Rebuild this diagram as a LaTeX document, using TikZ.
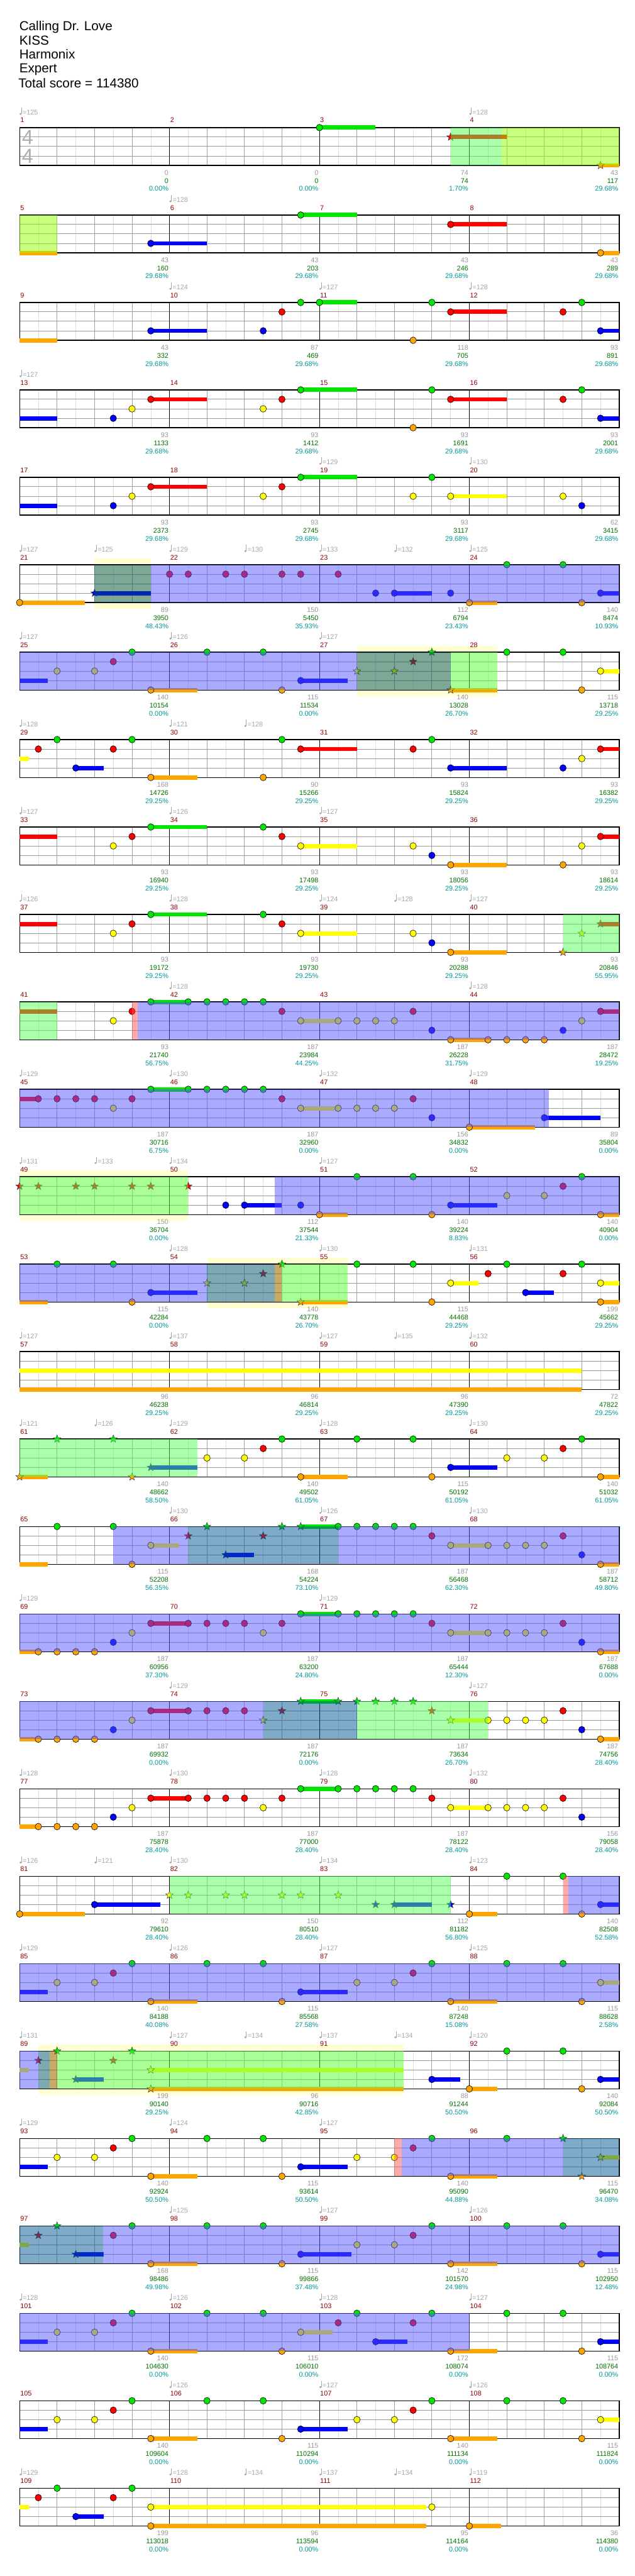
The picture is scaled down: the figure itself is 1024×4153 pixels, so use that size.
\documentclass[tikz,border=0pt]{standalone}
\usepackage{fontspec}
\setmainfont{Liberation Sans}
\usepackage{tikz}

\definecolor{lane0}{RGB}{0,230,0}
\definecolor{lane1}{RGB}{255,0,0}
\definecolor{lane2}{RGB}{255,255,0}
\definecolor{lane3}{RGB}{0,0,255}
\definecolor{lane4}{RGB}{255,165,0}
\definecolor{odfill}{RGB}{85,85,255}
\definecolor{spfill}{RGB}{85,255,85}
\definecolor{limefill}{RGB}{145,255,0}
\definecolor{mixafill}{RGB}{0,85,145}
\definecolor{mixbfill}{RGB}{0,81,90}
\definecolor{pinkfill}{RGB}{255,85,85}
\definecolor{tanfill}{RGB}{145,85,0}
\definecolor{paleyel}{RGB}{255,255,210}
\definecolor{eighthc}{RGB}{222,222,222}
\definecolor{quarterc}{RGB}{160,160,160}
\definecolor{lanec}{RGB}{155,155,155}
\definecolor{mred}{RGB}{140,0,0}
\definecolor{sgray}{RGB}{150,150,150}
\definecolor{dgreen}{RGB}{0,110,0}
\definecolor{pteal}{RGB}{0,150,150}
\definecolor{tgray}{RGB}{165,165,165}
\definecolor{tsgray}{RGB}{175,175,175}

% staff of one row, 32 eighths wide, lanes 0..4
\newcommand{\staffgrid}{%
  \foreach \i in {1,3,...,31} \draw[eighthline] (\i,0) -- (\i,4);
  \foreach \i in {2,4,6,10,12,14,18,20,22,26,28,30} \draw[quarterline] (\i,0) -- (\i,4);
  \foreach \i in {1,2,3} \draw[laneline] (0,\i) -- (32,\i);
  \foreach \i in {8,16,24} \draw[barline] (\i,0) -- (\i,4);
  \draw[staffedge] (0,0) rectangle (32,4);
}
\newcommand{\nhead}[2]{\filldraw[notehead, fill=lane#2] (#1,#2) ellipse [x radius=5.2pt, y radius=5.4pt];}
\newcommand{\nheads}[2]{\foreach \pp in {#1}{\nhead{\pp}{#2}}}
\newcommand{\sust}[3]{\draw[lane#3, line width=7pt] (#1,#3) -- (#2,#3);}
\newcommand{\snote}[3]{\sust{#1}{#2}{#3}\nhead{#1}{#3}}
\newcommand{\sstar}[2]{\filldraw[starnote, fill=lane#2] (#1,#2) +(90:6.5pt) -- +(126:2.7pt) -- +(162:6.5pt) -- +(198:2.7pt) -- +(234:6.5pt) -- +(270:2.7pt) -- +(306:6.5pt) -- +(342:2.7pt) -- +(18:6.5pt) -- +(54:2.7pt) -- cycle;}
\newcommand{\sstars}[2]{\foreach \pp in {#1}{\sstar{\pp}{#2}}}
\newcommand{\ovl}[3]{\fill[#3, opacity=.5] (#1,0) rectangle (#2,4);}
\newcommand{\pyel}[2]{\fill[paleyel] (#1,-.66) rectangle (#2,4.66);}
\newcommand{\tempos}[2]{%
  \foreach \tq/\tv in {#2}{
    \fill[tgray] (\tq,0) ++(1.5pt,22pt) circle (1.7pt);
    \draw[tgray, line width=.6pt] (\tq,0) ++(3pt,22pt) -- ++(0pt,10pt);
    \path (\tq,0) ++(4.8pt,20.7pt) node[tempo] (tp#1-\tq) {=\tv};
  }
}
\newcommand{\scores}[2]{%
  \foreach \va/\vb/\vc [count=\kk from 0] in {#2}{
    \pgfmathtruncatemacro{\mno}{4*#1+\kk+1}
    \path (8*\kk,0) ++(1pt,8pt) node[mnum] (mn\mno) {\mno};
    \path (8*\kk+8,4) ++(-1.5pt,-15.5pt) node[snum] (sa\mno) {\va};
    \path (8*\kk+8,4) ++(-1.5pt,-28.5pt) node[tnum] (sb\mno) {\vb};
    \path (8*\kk+8,4) ++(-1.5pt,-41.5pt) node[pnum] (sc\mno) {\vc\%};
  }
}

\begin{document}
\begin{tikzpicture}[x=1pt, y=-1pt,
  rowat/.style={xshift=31.6pt, yshift={-205.7pt-#1*140.95pt}, x=30.22pt, y=-15.25pt},
  eighthline/.style={draw=eighthc, line width=.6pt},
  quarterline/.style={draw=quarterc, line width=.8pt},
  laneline/.style={draw=lanec, line width=1pt},
  barline/.style={draw=black, line width=.8pt},
  staffedge/.style={draw=black, line width=1.3pt},
  notehead/.style={draw=black, line width=.6pt},
  starnote/.style={draw=black!80, line width=.5pt},
  headtext/.style={font=\fontsize{21}{24}\selectfont, anchor=base west, inner sep=0pt},
  mnum/.style={text=mred, font=\fontsize{11}{13}\selectfont, anchor=base west, inner sep=0pt},
  snum/.style={text=sgray, font=\fontsize{11}{13}\selectfont, anchor=base east, inner sep=0pt},
  tnum/.style={snum, text=dgreen},
  pnum/.style={snum, text=pteal},
  tempo/.style={text=tgray, font=\fontsize{11}{13}\selectfont, anchor=base west, inner sep=0pt},
  tsig/.style={text=tsgray, font=\fontsize{33}{33}\selectfont, inner sep=0pt}]
\useasboundingbox (0,0) rectangle (1024,4153);

% Song header
\node[headtext] (title) at (31,49.3) {Calling Dr. Love};
\node[headtext] (artist) at (31,72) {KISS};
\node[headtext] (author) at (31,95) {Harmonix};
\node[headtext] (level) at (31,117.5) {Expert};
\node[headtext] (total) at (29.5,141) {Total score = 114380};

% Row 1: measures 1-4
\begin{scope}[rowat=0]
  \staffgrid
  \path (0,1) ++(13pt,0pt) node[tsig] (tsa) {4};
  \path (0,3) ++(13pt,0pt) node[tsig] (tsb) {4};
  \snote{16}{19}{0}
  \sust{23}{26}{1}\sstar{23}{1}
  \sust{31}{32}{4}\sstar{31}{4}
  \ovl{23}{25.74}{spfill}
  \ovl{25.74}{32}{limefill}
  \tempos{0}{0/125, 24/128}
  \scores{0}{0/0/0.00, 0/0/0.00, 74/74/1.70, 43/117/29.68}
\end{scope}

% Row 2: measures 5-8
\begin{scope}[rowat=1]
  \staffgrid
  \sust{0}{2}{4}
  \snote{7}{10}{3}
  \snote{15}{18}{0}
  \snote{23}{26}{1}
  \snote{31}{32}{4}
  \ovl{0}{2}{limefill}
  \tempos{1}{8/128}
  \scores{1}{43/160/29.68, 43/203/29.68, 43/246/29.68, 43/289/29.68}
\end{scope}

% Row 3: measures 9-12
\begin{scope}[rowat=2]
  \staffgrid
  \sust{0}{2}{4}
  \snote{7}{10}{3} \nhead{13}{3} \nhead{14}{1} \nhead{15}{0}
  \snote{16}{18}{0} \nhead{21}{4} \nhead{22}{0}
  \snote{23}{26}{1} \nhead{29}{1} \nhead{30}{0}
  \snote{31}{32}{3}
  \tempos{2}{8/124, 16/127, 24/128}
  \scores{2}{43/332/29.68, 87/469/29.68, 118/705/29.68, 93/891/29.68}
\end{scope}

% Row 4: measures 13-16
\begin{scope}[rowat=3]
  \staffgrid
  \sust{0}{2}{3} \nhead{5}{3} \nhead{6}{2}
  \snote{7}{10}{1} \nhead{13}{2} \nhead{14}{1}
  \snote{15}{18}{0} \nhead{21}{4} \nhead{22}{0}
  \snote{23}{26}{1} \nhead{29}{1} \nhead{30}{0}
  \snote{31}{32}{3}
  \tempos{3}{0/127}
  \scores{3}{93/1133/29.68, 93/1412/29.68, 93/1691/29.68, 93/2001/29.68}
\end{scope}

% Row 5: measures 17-20
\begin{scope}[rowat=4]
  \staffgrid
  \sust{0}{2}{3} \nhead{5}{3} \nhead{6}{2}
  \snote{7}{10}{1} \nhead{13}{2} \nhead{14}{1}
  \snote{15}{18}{0} \nhead{21}{2} \nhead{22}{0}
  \snote{23}{26}{2} \nhead{29}{2} \nhead{30}{3}
  \tempos{4}{16/129, 24/130}
  \scores{4}{93/2373/29.68, 93/2745/29.68, 93/3117/29.68, 62/3415/29.68}
\end{scope}

% Row 6: measures 21-24
\begin{scope}[rowat=5]
  \pyel{4}{7}
  \staffgrid
  \snote{0}{3.5}{4}
  \sust{4}{7}{3}\sstar{4}{3}
  \nheads{8,9,11,12,14,15,17}{1}
  \nhead{19}{3} \snote{20}{22}{3} \nhead{23}{3}
  \snote{24}{25.5}{4} \nhead{26}{0} \nhead{29}{0} \nhead{30}{4}
  \snote{31}{32}{3}
  \ovl{4}{7}{mixbfill} \ovl{7}{32}{odfill}
  \tempos{5}{0/127, 4/125, 8/129, 12/130, 16/133, 20/132, 24/125}
  \scores{5}{89/3950/48.43, 150/5450/35.93, 112/6794/23.43, 140/8474/10.93}
\end{scope}

% Row 7: measures 25-28
\begin{scope}[rowat=6]
  \pyel{18}{25.5}
  \staffgrid
  \sust{0}{1.5}{3} \nhead{2}{2} \nhead{4}{2} \nhead{5}{1} \nhead{6}{0}
  \snote{7}{9.5}{4} \nhead{10}{0} \nhead{13}{0} \nhead{14}{4}
  \snote{15}{17.5}{3}
  \sstar{18}{2} \sstar{20}{2} \sstar{21}{1} \sstar{22}{0}
  \sust{23}{25.5}{4}\sstar{23}{4}
  \nhead{26}{0} \nhead{29}{0} \nhead{30}{4}
  \snote{31}{32}{2}
  \ovl{0}{18}{odfill} \ovl{18}{23}{mixbfill} \ovl{23}{25.5}{spfill}
  \tempos{6}{0/127, 8/126, 16/127}
  \scores{6}{140/10154/0.00, 115/11534/0.00, 140/13028/26.70, 115/13718/29.25}
\end{scope}

% Row 8: measures 29-32
\begin{scope}[rowat=7]
  \staffgrid
  \sust{0}{0.5}{2} \nhead{1}{1} \nhead{2}{0}
  \snote{3}{4.5}{3} \nhead{5}{1} \nhead{6}{0}
  \snote{7}{9.5}{4} \nhead{13}{4} \nhead{14}{0}
  \snote{15}{18}{1} \nhead{21}{1} \nhead{22}{0}
  \snote{23}{26}{3} \nhead{29}{3} \nhead{30}{2}
  \snote{31}{32}{1}
  \tempos{7}{0/128, 8/121, 12/128}
  \scores{7}{168/14726/29.25, 90/15266/29.25, 93/15824/29.25, 93/16382/29.25}
\end{scope}

% Row 9: measures 33-36
\begin{scope}[rowat=8]
  \staffgrid
  \sust{0}{2}{1} \nhead{5}{2} \nhead{6}{1}
  \snote{7}{10}{0} \nhead{13}{0} \nhead{14}{1}
  \snote{15}{18}{2} \nhead{21}{2} \nhead{22}{3}
  \snote{23}{26}{4} \nhead{29}{4} \nhead{30}{2}
  \snote{31}{32}{1}
  \tempos{8}{0/127, 8/126, 16/127}
  \scores{8}{93/16940/29.25, 93/17498/29.25, 93/18056/29.25, 93/18614/29.25}
\end{scope}

% Row 10: measures 37-40
\begin{scope}[rowat=9]
  \staffgrid
  \sust{0}{2}{1} \nhead{5}{2} \nhead{6}{1}
  \snote{7}{10}{0} \nhead{13}{0} \nhead{14}{1}
  \snote{15}{18}{2} \nhead{21}{2} \nhead{22}{3}
  \snote{23}{26}{4}
  \sstar{29}{4} \sstar{30}{2}
  \sust{31}{32}{1}\sstar{31}{1}
  \ovl{29}{32}{spfill}
  \tempos{9}{0/126, 8/128, 16/124, 20/128, 24/127}
  \scores{9}{93/19172/29.25, 93/19730/29.25, 93/20288/29.25, 93/20846/55.95}
\end{scope}

% Row 11: measures 41-44
\begin{scope}[rowat=10]
  \staffgrid
  \sust{0}{2}{1} \nhead{5}{2} \nhead{6}{1}
  \sust{7}{9}{0} \nheads{7,9,10,11,12,13}{0} \nhead{14}{1}
  \sust{15}{17}{2} \nheads{15,17,18,19,20}{2} \nhead{21}{1} \nhead{22}{3}
  \sust{23}{25}{4} \nheads{23,25,26,27,28}{4} \nhead{29}{3} \nhead{30}{2}
  \snote{31}{32}{1}
  \ovl{0}{2}{spfill} \ovl{6}{6.3}{pinkfill} \ovl{6.3}{32}{odfill}
  \tempos{10}{8/128, 24/128}
  \scores{10}{93/21740/56.75, 187/23984/44.25, 187/26228/31.75, 187/28472/19.25}
\end{scope}

% Row 12: measures 45-48
\begin{scope}[rowat=11]
  \staffgrid
  \sust{0}{1}{1} \nheads{1,2,3,4}{1} \nhead{5}{2} \nhead{6}{1}
  \sust{7}{9}{0} \nheads{7,9,10,11,12,13}{0} \nhead{14}{1}
  \sust{15}{17}{2} \nheads{15,17,18,19,20}{2} \nhead{21}{1} \nhead{22}{3}
  \snote{24}{27.5}{4} \snote{28}{31}{3}
  \ovl{0}{28.25}{odfill}
  \tempos{11}{0/129, 8/130, 16/132, 24/129}
  \scores{11}{187/30716/6.75, 187/32960/0.00, 156/34832/0.00, 89/35804/0.00}
\end{scope}

% Row 13: measures 49-52
\begin{scope}[rowat=12]
  \pyel{0}{9}
  \staffgrid
  \sstars{0,1,3,4,6,7,9}{1}
  \nhead{11}{3} \snote{12}{14}{3} \nhead{15}{3}
  \snote{16}{17.5}{4} \nhead{18}{0} \nhead{21}{0} \nhead{22}{4}
  \snote{23}{25.5}{3} \nhead{26}{2} \nhead{28}{2} \nhead{29}{1} \nhead{30}{0}
  \snote{31}{32}{4}
  \ovl{0}{9}{spfill} \ovl{13.6}{32}{odfill}
  \tempos{12}{0/131, 4/133, 8/134, 16/127}
  \scores{12}{150/36704/0.00, 112/37544/21.33, 140/39224/8.83, 140/40904/0.00}
\end{scope}

% Row 14: measures 53-56
\begin{scope}[rowat=13]
  \pyel{10}{17.5}
  \staffgrid
  \sust{0}{1.5}{4} \nhead{2}{0} \nhead{5}{0} \nhead{6}{4}
  \snote{7}{9.5}{3}
  \sstar{10}{2} \sstar{12}{2} \sstar{13}{1} \sstar{14}{0}
  \sust{15}{17.5}{4}\sstar{15}{4}
  \nhead{18}{0} \nhead{21}{0} \nhead{22}{4}
  \snote{23}{24.5}{2} \nhead{25}{1} \nhead{26}{0}
  \snote{27}{28.5}{3} \nhead{29}{1} \nhead{30}{0}
  \snote{31}{32}{2} \snote{31}{32}{4}
  \ovl{0}{10}{odfill} \ovl{10}{13.6}{mixafill} \ovl{13.6}{14}{tanfill} \ovl{14}{17.5}{spfill}
  \tempos{13}{8/128, 16/130, 24/131}
  \scores{13}{115/42284/0.00, 140/43778/26.70, 115/44468/29.25, 199/45662/29.25}
\end{scope}

% Row 15: measures 57-60
\begin{scope}[rowat=14]
  \staffgrid
  \sust{0}{30}{2} \sust{0}{30}{4}
  \tempos{14}{0/127, 8/137, 16/127, 20/135, 24/132}
  \scores{14}{96/46238/29.25, 96/46814/29.25, 96/47390/29.25, 72/47822/29.25}
\end{scope}

% Row 16: measures 61-64
\begin{scope}[rowat=15]
  \staffgrid
  \sust{0}{1.5}{4}\sstar{0}{4}
  \sstar{2}{0} \sstar{5}{0} \sstar{6}{4}
  \sust{7}{9.5}{3}\sstar{7}{3}
  \nhead{10}{2} \nhead{12}{2} \nhead{13}{1} \nhead{14}{0}
  \snote{15}{17.5}{4} \nhead{18}{0} \nhead{21}{0} \nhead{22}{4}
  \snote{23}{25.5}{3} \nhead{26}{2} \nhead{28}{2} \nhead{29}{1} \nhead{30}{0}
  \snote{31}{32}{4}
  \ovl{0}{9.5}{spfill}
  \tempos{15}{0/121, 4/126, 8/129, 16/128, 24/130}
  \scores{15}{140/48662/58.50, 140/49502/61.05, 115/50192/61.05, 140/51032/61.05}
\end{scope}

% Row 17: measures 65-68
\begin{scope}[rowat=16]
  \staffgrid
  \sust{0}{1.5}{4} \nhead{2}{0} \nhead{5}{0} \nhead{6}{4}
  \snote{7}{8.5}{2}
  \sstar{9}{1} \sstar{10}{0}
  \sust{11}{12.5}{3}\sstar{11}{3}
  \sstar{13}{1} \sstar{14}{0}
  \sust{15}{17}{0}\sstar{15}{0}
  \nheads{17,18,19,20,21}{0} \nhead{22}{1}
  \sust{23}{25}{2} \nheads{23,25,26,27,28}{2} \nhead{29}{1} \nhead{30}{3}
  \snote{31}{32}{4}
  \ovl{5}{9}{odfill} \ovl{9}{17}{mixafill} \ovl{17}{32}{odfill}
  \tempos{16}{8/130, 16/126, 24/130}
  \scores{16}{115/52208/56.35, 168/54224/73.10, 187/56468/62.30, 187/58712/49.80}
\end{scope}

% Row 18: measures 69-72
\begin{scope}[rowat=17]
  \staffgrid
  \sust{0}{1}{4} \nheads{1,2,3,4}{4} \nhead{5}{3} \nhead{6}{2}
  \sust{7}{9}{1} \nheads{7,9,10,11,12,14}{1} \nhead{13}{2}
  \sust{15}{17}{0} \nheads{15,17,18,19,20,21}{0} \nhead{22}{1}
  \sust{23}{25}{2} \nheads{23,25,26,27,28}{2} \nhead{29}{1} \nhead{30}{3}
  \snote{31}{32}{4}
  \ovl{0}{32}{odfill}
  \tempos{17}{0/129, 16/129}
  \scores{17}{187/60956/37.30, 187/63200/24.80, 187/65444/12.30, 187/67688/0.00}
\end{scope}

% Row 19: measures 73-76
\begin{scope}[rowat=18]
  \staffgrid
  \sust{0}{1}{4} \nheads{1,2,3,4}{4} \nhead{5}{3} \nhead{6}{2}
  \sust{7}{9}{1} \nheads{7,9,10,11,12}{1}
  \sstar{13}{2} \sstar{14}{1}
  \sust{15}{17}{0} \sstars{15,17,18,19,20,21}{0} \sstar{22}{1}
  \sust{23}{25}{2}\sstar{23}{2} \nheads{25,26,27,28}{2} \nhead{29}{1} \nhead{30}{3}
  \snote{31}{32}{4}
  \ovl{0}{13}{odfill} \ovl{13}{18}{mixafill} \ovl{18}{25}{spfill}
  \tempos{18}{8/129, 24/127}
  \scores{18}{187/69932/0.00, 187/72176/0.00, 187/73634/26.70, 187/74756/28.40}
\end{scope}

% Row 20: measures 77-80
\begin{scope}[rowat=19]
  \staffgrid
  \sust{0}{1}{4} \nheads{1,2,3,4}{4} \nhead{5}{3} \nhead{6}{2}
  \sust{7}{9}{1} \nheads{7,9,10,11,12,14}{1} \nhead{13}{2}
  \sust{15}{17}{0} \nheads{15,17,18,19,20,21}{0} \nhead{22}{1}
  \sust{23}{25}{2} \nheads{23,25,26,27,28}{2} \nhead{29}{1} \nhead{30}{3}
  \tempos{19}{0/128, 8/130, 16/128, 24/132}
  \scores{19}{187/75878/28.40, 187/77000/28.40, 187/78122/28.40, 156/79058/28.40}
\end{scope}

% Row 21: measures 81-84
\begin{scope}[rowat=20]
  \staffgrid
  \snote{0}{3.5}{4} \snote{4}{7.5}{3}
  \sstars{8,9,11,12,14,15,17}{2}
  \sstar{19}{3} \sust{20}{22}{3}\sstar{20}{3} \sstar{23}{3}
  \snote{24}{25.5}{4} \nhead{26}{0} \nhead{29}{0} \nhead{30}{4}
  \snote{31}{32}{3}
  \ovl{8}{23}{spfill} \ovl{29}{29.3}{pinkfill} \ovl{29.3}{32}{odfill}
  \tempos{20}{0/126, 4/121, 8/130, 16/134, 24/123}
  \scores{20}{92/79610/28.40, 150/80510/28.40, 112/81182/56.80, 140/82508/52.58}
\end{scope}

% Row 22: measures 85-88
\begin{scope}[rowat=21]
  \staffgrid
  \sust{0}{1.5}{3} \nhead{2}{2} \nhead{4}{2} \nhead{5}{1} \nhead{6}{0}
  \snote{7}{9.5}{4} \nhead{10}{0} \nhead{13}{0} \nhead{14}{4}
  \snote{15}{17.5}{3} \nhead{18}{2} \nhead{20}{2} \nhead{21}{1} \nhead{22}{0}
  \snote{23}{25.5}{4} \nhead{26}{0} \nhead{29}{0} \nhead{30}{4}
  \snote{31}{32}{2}
  \ovl{0}{32}{odfill}
  \tempos{21}{0/129, 8/126, 16/127, 24/125}
  \scores{21}{140/84188/40.08, 115/85568/27.58, 140/87248/15.08, 115/88628/2.58}
\end{scope}

% Row 23: measures 89-92
\begin{scope}[rowat=22]
  \pyel{1}{20.5}
  \staffgrid
  \sust{0}{0.5}{2}
  \sstar{1}{1} \sstar{2}{0}
  \sust{3}{4.5}{3}\sstar{3}{3}
  \sstar{5}{1} \sstar{6}{0}
  \sust{7}{20.5}{2}\sstar{7}{2}
  \sust{7}{20.5}{4}\sstar{7}{4}
  \snote{22}{23.5}{3} \snote{24}{25.5}{4}
  \nhead{26}{0} \nhead{29}{0} \nhead{30}{4}
  \snote{31}{32}{3}
  \ovl{0}{1}{odfill} \ovl{1}{1.6}{mixafill} \ovl{1.6}{2}{tanfill} \ovl{2}{20.5}{spfill}
  \tempos{22}{0/131, 8/127, 12/134, 16/137, 20/134, 24/120}
  \scores{22}{199/90140/29.25, 96/90716/42.85, 88/91244/50.50, 140/92084/50.50}
\end{scope}

% Row 24: measures 93-96
\begin{scope}[rowat=23]
  \staffgrid
  \sust{0}{1.5}{3} \nhead{2}{2} \nhead{4}{2} \nhead{5}{1} \nhead{6}{0}
  \snote{7}{9.5}{4} \nhead{10}{0} \nhead{13}{0} \nhead{14}{4}
  \snote{15}{17.5}{3} \nhead{18}{2} \nhead{20}{2} \nhead{21}{1} \nhead{22}{0}
  \snote{23}{25.5}{4} \nhead{26}{0}
  \sstar{29}{0} \sstar{30}{4}
  \sust{31}{32}{2}\sstar{31}{2}
  \ovl{20}{20.4}{pinkfill} \ovl{20.4}{29}{odfill} \ovl{29}{32}{mixafill}
  \tempos{23}{0/129, 8/124, 16/127}
  \scores{23}{140/92924/50.50, 115/93614/50.50, 140/95090/44.88, 115/96470/34.08}
\end{scope}

% Row 25: measures 97-100
\begin{scope}[rowat=24]
  \staffgrid
  \sust{0}{0.5}{2}
  \sstar{1}{1} \sstar{2}{0}
  \sust{3}{4.5}{3}\sstar{3}{3}
  \nhead{5}{1} \nhead{6}{0}
  \snote{7}{9.5}{4} \nhead{10}{0} \nhead{13}{0} \nhead{14}{4}
  \snote{15}{17.7}{3} \nhead{18}{2} \nhead{20}{2} \nhead{21}{1} \nhead{22}{0}
  \snote{23}{25.5}{4} \nhead{26}{0} \nhead{29}{0} \nhead{30}{4}
  \snote{31}{32}{3}
  \ovl{0}{4.46}{mixafill} \ovl{4.46}{32}{odfill}
  \tempos{24}{8/125, 16/127, 24/126}
  \scores{24}{168/98486/49.98, 115/99866/37.48, 142/101570/24.98, 115/102950/12.48}
\end{scope}

% Row 26: measures 101-104
\begin{scope}[rowat=25]
  \staffgrid
  \sust{0}{1.5}{3} \nhead{2}{2} \nhead{4}{2} \nhead{5}{1} \nhead{6}{0}
  \snote{7}{9.5}{4} \nhead{10}{0} \nhead{13}{0} \nhead{14}{4}
  \snote{15}{16.7}{2} \nhead{17}{1} \nhead{18}{0}
  \snote{19}{20.7}{3} \nhead{21}{1} \nhead{22}{0}
  \snote{23}{25.5}{4} \nhead{26}{0} \nhead{29}{0} \nhead{30}{4}
  \snote{31}{32}{3}
  \ovl{0}{24}{odfill}
  \tempos{25}{0/128, 8/126, 16/128, 24/127}
  \scores{25}{140/104630/0.00, 115/106010/0.00, 172/108074/0.00, 115/108764/0.00}
\end{scope}

% Row 27: measures 105-108
\begin{scope}[rowat=26]
  \staffgrid
  \sust{0}{1.5}{3} \nhead{2}{2} \nhead{4}{2} \nhead{5}{1} \nhead{6}{0}
  \snote{7}{9.5}{4} \nhead{10}{0} \nhead{13}{0} \nhead{14}{4}
  \snote{15}{17.5}{3} \nhead{18}{2} \nhead{20}{2} \nhead{21}{1} \nhead{22}{0}
  \snote{23}{25.5}{4} \nhead{26}{0} \nhead{29}{0} \nhead{30}{4}
  \snote{31}{32}{2}
  \tempos{26}{8/126, 16/127, 24/126}
  \scores{26}{140/109604/0.00, 115/110294/0.00, 140/111134/0.00, 115/111824/0.00}
\end{scope}

% Row 28: measures 109-112
\begin{scope}[rowat=27]
  \staffgrid
  \sust{0}{0.5}{2} \nhead{1}{1} \nhead{2}{0}
  \snote{3}{4.5}{3} \nhead{5}{1} \nhead{6}{0}
  \snote{7}{21.7}{2} \nhead{22}{2}
  \snote{7}{21.7}{4}
  \snote{24}{25.7}{4}
  \tempos{27}{0/129, 8/128, 12/134, 16/137, 20/134, 24/119}
  \scores{27}{199/113018/0.00, 96/113594/0.00, 95/114164/0.00, 36/114380/0.00}
\end{scope}
\end{tikzpicture}
\end{document}
